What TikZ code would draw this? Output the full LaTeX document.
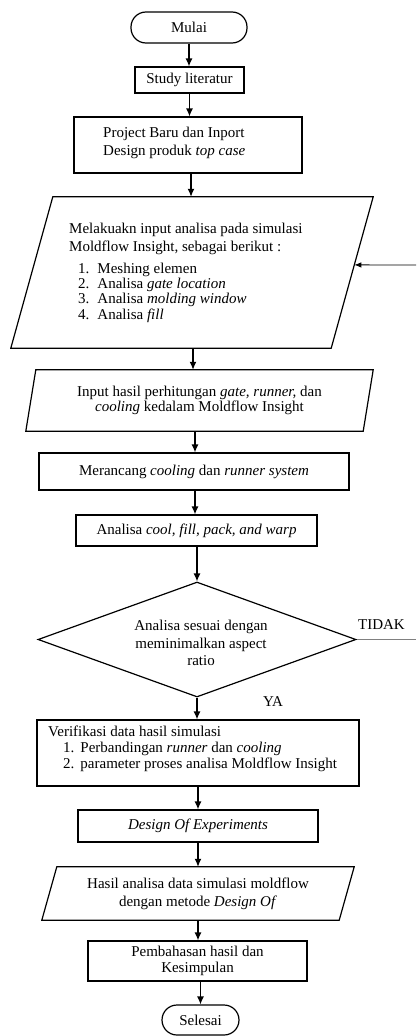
\documentclass[tikz,border=0pt]{standalone}
\usepackage{fontspec}
\setmainfont{Liberation Serif}
\usetikzlibrary{arrows.meta,shapes.geometric,calc}
\newcommand{\drawpara}[2]{\draw[shapeline] ([xshift=#2pt]#1.north west) -- (#1.north east) -- ([xshift=-#2pt]#1.south east) -- (#1.south west) -- cycle;}
\begin{document}
\begin{tikzpicture}[x=1pt,y=-1pt,
  every node/.style={font=\fontsize{15}{18}\selectfont, text=black},
  box/.style={draw, line width=1.2pt, inner sep=0pt, align=center},
  term/.style={box, rounded corners=15pt},
  txt/.style={inner sep=0pt, align=left},
  plain/.style={inner sep=0pt, align=center},
  arr/.style={line width=1.3pt, -{Latex[length=8pt,width=7pt]}},
  fbarr/.style={line width=0.9pt, -{Latex[length=7pt,width=5.5pt]}},
  noline/.style={line width=1pt, draw=black!50},
  shapeline/.style={line width=1.2pt, line join=miter},
]
\useasboundingbox (0,0) rectangle (416,1036);

% nodes
\node[term, minimum width=116pt, minimum height=31pt] (mulai) at (189,27.5) {Mulai};
\node[box, minimum width=109pt, minimum height=26pt] (study) at (189.5,80) {Study literatur};
\node[box, minimum width=228pt, minimum height=56pt] (project) at (188,145) {};
\node[txt, anchor=west, font=\fontsize{15}{17.5}\selectfont] (projecttext) at (103,143) {Project Baru dan Inport\\Design produk \textit{top case}};

\node[plain, minimum width=362pt, minimum height=151pt] (p1) at (192,272.5) {};
\drawpara{p1}{42}
\node[txt, anchor=west] (p1text) at (69,239) {Melakuakn input analisa pada simulasi\\Moldflow Insight, sebagai berikut :};
\node[txt, anchor=west, font=\fontsize{15}{15}\selectfont] (p1list) at (78,293.5) {\begin{tabular}{@{}r@{\hspace{8pt}}l@{}}1. & Meshing elemen\\2. & Analisa \textit{gate location}\\3. & Analisa \textit{molding window}\\4. & Analisa \textit{fill}\end{tabular}};

\node[plain, minimum width=347pt, minimum height=61pt, font=\fontsize{15}{15.5}\selectfont] (p2) at (199.5,400.5) {Input hasil perhitungan \textit{gate, runner,} dan\\\textit{cooling} kedalam Moldflow Insight};
\drawpara{p2}{10}

\node[box, minimum width=310pt, minimum height=37pt] (merancang) at (194,471.5) {Merancang \textit{cooling} dan \textit{runner system}};
\node[box, minimum width=241pt, minimum height=31pt] (analisa) at (196.5,530.5) {Analisa \textit{cool, fill, pack, and warp}};

\node[draw, shape=diamond, line width=1.2pt, inner sep=0pt, minimum width=318pt, minimum height=115pt] (cek) at (197,639.5) {};
\node[plain, font=\fontsize{15}{17.7}\selectfont] (cektext) at (201,643) {Analisa sesuai dengan\\meminimalkan aspect\\ratio};
\node[plain] (tidak) at (381.5,625) {TIDAK};
\node[plain] (ya) at (273,702) {YA};

\node[box, minimum width=322pt, minimum height=66pt] (verif) at (198,753) {};
\node[txt, anchor=west, font=\fontsize{15}{16}\selectfont] (veriftext) at (48,749) {Verifikasi data hasil simulasi\\\hspace*{15pt}1.\hspace{6pt}Perbandingan \textit{runner} dan \textit{cooling}\\\hspace*{15pt}2.\hspace{6pt}parameter proses analisa Moldflow Insight};

\node[box, minimum width=240pt, minimum height=32pt] (doe) at (198,826) {\textit{Design Of Experiments}};
\node[plain, minimum width=312pt, minimum height=53pt] (p3) at (198,893.5) {Hasil analisa data simulasi moldflow\\dengan metode \textit{Design Of}};
\drawpara{p3}{15}
\node[box, minimum width=219pt, minimum height=40pt, font=\fontsize{15}{16.7}\selectfont] (pemb) at (197.5,961) {Pembahasan hasil dan\\Kesimpulan};
\node[term, minimum width=77pt, minimum height=30pt] (selesai) at (200.5,1020) {Selesai};

% connector axes
\coordinate (ax1) at (191,0);
\coordinate (ax2) at (193,0);
\coordinate (ax3) at (195,0);

% connectors
\draw[arr] (mulai.south) -- (mulai.south |- study.north);
\draw[arr] (study.south) -- (study.south |- project.north);
\draw[arr] (ax1 |- project.south) -- (ax1 |- p1.north);
\draw[arr] (ax2 |- p1.south) -- (ax2 |- p2.north);
\draw[arr] (ax3 |- p2.south) -- (ax3 |- merancang.north);
\draw[arr] (ax3 |- merancang.south) -- (ax3 |- analisa.north);
\draw[arr] (cek.north |- analisa.south) -- (cek.north);
\draw[arr] (cek.south) -- (cek.south |- verif.north);
\draw[arr] (verif.south) -- (verif.south |- doe.north);
\draw[arr] (doe.south) -- (doe.south |- p3.north);
\draw[arr] (p3.south) -- (p3.south |- pemb.north);
\draw[arr] (selesai.north |- pemb.south) -- (selesai.north);

\coordinate (tidakend) at (416,639.5);
\draw[noline] (cek.east) -- (tidakend);
\coordinate (fbstart) at (416,265);
\coordinate (p1r) at ($(p1.north east)!0.45!([xshift=-42pt]p1.south east)$);
\draw[fbarr] (fbstart) -- (p1r);
\end{tikzpicture}
\end{document}
